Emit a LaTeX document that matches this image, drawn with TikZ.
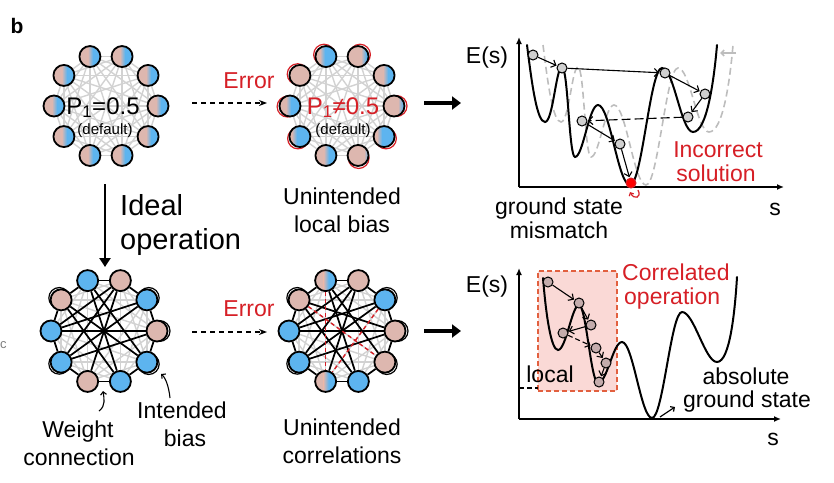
\documentclass[tikz,border=0pt]{standalone}
\usepackage{fontspec}
\setmainfont{Liberation Sans}
\usetikzlibrary{arrows.meta,backgrounds}
\definecolor{pinkc}{HTML}{DDB7AF}
\definecolor{bluec}{HTML}{5DB4EF}
\definecolor{glc}{HTML}{D2D2D2}
\definecolor{redc}{HTML}{D61F26}
\definecolor{boxfill}{HTML}{FAD9D6}
\definecolor{boxdraw}{HTML}{E2603F}
\definecolor{ptg}{HTML}{D0D0D0}
\definecolor{ptb}{HTML}{C4ACAC}
\definecolor{dgray}{HTML}{BDBDBD}
\begin{document}
\begin{tikzpicture}[x=1pt,y=-1pt,
  nd/.style={circle, draw=black, line width=1.8pt, minimum size=21pt, inner sep=0pt},
  pk/.style={nd, fill=pinkc},
  bl/.style={nd, fill=bluec},
  mix/.style={nd, fill=bluec, path picture={
     \fill[pinkc] (path picture bounding box.south west) rectangle ([xshift=#1pt-2pt]path picture bounding box.north west);
     \shade[left color=pinkc,right color=bluec] ([xshift=#1pt-2.5pt]path picture bounding box.south west) rectangle ([xshift=#1pt+2.5pt]path picture bounding box.north west);}},
  gline/.style={draw=glc, line width=1.4pt},
  bline/.style={draw=black, line width=1.7pt},
  rline/.style={draw=redc, line width=1.4pt, dash pattern=on 4pt off 3pt},
  rarc/.style={draw=redc, line width=1.2pt},
  karc/.style={draw=black, line width=1.2pt},
  txt/.style={inner sep=0pt, font=\fontsize{23}{26}\selectfont},
  pt/.style={circle, draw=black, line width=1pt, fill=ptg, minimum size=10pt, inner sep=0pt},
  ptq/.style={pt, fill=ptb},
  arr/.style={line width=1.1pt, -{Straight Barb[length=4pt,width=8pt,line width=1.1pt]}, shorten >=0.5pt},
  axis/.style={line width=1.8pt, -{Latex[length=7pt,width=6pt]}},
  lscurve/.style={line width=2pt, line cap=round},
  fatarr/.style={line width=4pt, -{Triangle[length=9pt,width=13pt]}},
  errarr/.style={line width=1.4pt, dash pattern=on 5pt off 4pt, -{Stealth[length=8pt,width=6pt]}}
]
\useasboundingbox (0,0) rectangle (834,482);

% ---------------- rings ----------------
\foreach \k/\m in {0/11,1/11,2/11,3/11,4/11,5/11,6/11,7/11,8/11,9/11}
  \node[mix=\m] (A\k) at ({106+52*cos(\k*36)},{106-52*sin(\k*36)}) {};
\foreach \k/\m in {0/17,1/12,2/16,3/7,4/24,5/9,6/5,7/11,8/19,9/6}
  \node[mix=\m] (B\k) at ({342+52*cos(\k*36)},{106-52*sin(\k*36)}) {};
\foreach \k/\s in {0/pk,1/bl,2/pk,3/bl,4/pk,5/bl,6/bl,7/pk,8/bl,9/bl}
  \node[\s] (C\k) at ({104+53*cos(\k*36)},{331-53*sin(\k*36)}) {};
\foreach \k/\s in {0/pk,1/bl,2/pk,4/pk,5/bl,6/bl,8/bl,9/pk}
  \node[\s] (D\k) at ({342+53*cos(\k*36)},{331-53*sin(\k*36)}) {};
\foreach \k in {3,7}
  \node[mix=11] (D\k) at ({342+53*cos(\k*36)},{331-53*sin(\k*36)}) {};

\begin{pgfonlayer}{background}
  \foreach \r in {A,B,C,D}{
    \foreach \i in {0,...,8}{
      \pgfmathtruncatemacro\s{\i+1}
      \foreach \j in {\s,...,9}{ \draw[gline] (\r\i) -- (\r\j); }
    }
  }
  \foreach \r in {C,D}{
    \foreach \i in {0,...,9}{
      \pgfmathtruncatemacro\n{mod(\i+1,10)}
      \draw[bline] (\r\i) -- (\r\n);
    }
  }
  \foreach \a/\b in {2/5,2/6,2/7,3/8,3/9,4/9,1/6,1/5,5/0,6/0,4/8}
    \draw[bline] (C\a) -- (C\b);
  \foreach \a/\b in {2/5,2/6,2/7,3/8,3/9,1/6,1/5,5/0,6/0,4/8,4/0}
    \draw[bline] (D\a) -- (D\b);
  \foreach \a/\b in {3/7,4/9,1/7}
    \draw[rline] (D\a) -- (D\b);
  % bias arcs
  \foreach \k/\dx/\dy in {0/2.6/0,2/1.9/1.9,3/-1.9/1.9,4/-2.3/1.3,5/-2.5/-0.6,6/-1.9/-1.9,8/0.6/-2.6,9/1.9/-1.9}
    \draw[rarc] ([xshift=\dx pt,yshift=\dy pt]B\k.center) circle[radius=10.4pt];
  \foreach \r in {C,D}{
    \foreach \k/\dx/\dy in {4/-1.9/1.9,1/1.9/1.9,0/2.6/0,9/1.9/-1.9,6/-1.9/-1.6}
      \draw[karc] ([xshift=\dx pt,yshift=\dy pt]\r\k.center) circle[radius=10.4pt];
  }
\end{pgfonlayer}

% ring texts
\node[inner sep=0pt, font=\fontsize{24}{24}\selectfont, anchor=base] (ta1) at (103,114) {P\textsubscript{1}=0.5};
\node[inner sep=0pt, font=\fontsize{15}{15}\selectfont, anchor=base] (ta2) at (105,134) {(default)};
\node[inner sep=0pt, font=\fontsize{24}{24}\selectfont, text=redc, anchor=base] (tb1) at (343,114) {P\textsubscript{1}≠0.5};
\node[inner sep=0pt, font=\fontsize{15}{15}\selectfont, anchor=base] (tb2) at (343,134) {(default)};

% labels
\node[inner sep=0pt, font=\fontsize{21}{21}\selectfont\bfseries, anchor=base] (lb) at (17,33) {b};
\node[inner sep=0pt, font=\fontsize{13}{13}\selectfont, text=gray, anchor=west] (lc) at (0,345) {c};

\node[txt, text=redc] (err1) at (249,81) {Error};
\node[txt, text=redc] (err2) at (249,309) {Error};
\coordinate (e1a) at (192,103); \coordinate (e1b) at (267,103);
\coordinate (e2a) at (192,332); \coordinate (e2b) at (267,332);
\draw[errarr] (e1a) -- (e1b);
\draw[errarr] (e2a) -- (e2b);

\coordinate (f1a) at (424,103); \coordinate (f1b) at (461,103);
\coordinate (f2a) at (424,331); \coordinate (f2b) at (461,331);
\draw[fatarr] (f1a) -- (f1b);
\draw[fatarr] (f2a) -- (f2b);

\coordinate (v1) at (105,184); \coordinate (v2) at (105,267);
\draw[line width=2.6pt, -{Triangle[length=9pt,width=11pt]}] (v1) -- (v2);
\node[inner sep=0pt, font=\fontsize{29}{29}\selectfont, anchor=base west] (ideal) at (120,215) {Ideal};
\node[inner sep=0pt, font=\fontsize{29}{29}\selectfont, anchor=base west] (oper) at (120,249) {operation};

\node[txt, anchor=base] (ul1) at (342,204) {Unintended};
\node[txt, anchor=base] (ul2) at (342,232) {local bias};
\node[txt, anchor=base] (uc1) at (342,435) {Unintended};
\node[txt, anchor=base] (uc2) at (342,463) {correlations};
\node[txt, anchor=base] (wc1) at (78,437) {Weight};
\node[txt, anchor=base] (wc2) at (79,465) {connection};
\node[txt, anchor=base] (ib1) at (182,418) {Intended};
\node[txt, anchor=base] (ib2) at (185,446) {bias};

\coordinate (wa) at (99,411); \coordinate (wb) at (103,391);
\draw[line width=1.1pt, -{Straight Barb[length=3pt,width=6pt]}] (wa) .. controls (106,406) and (104,398) .. (wb);
\coordinate (ia) at (170,398); \coordinate (ib) at (161,374);
\draw[line width=1.1pt, -{Straight Barb[length=3pt,width=6pt]}] (ia) .. controls (169,388) and (166,378) .. (ib);

% ---------------- top plot ----------------
\begin{scope}[xshift=16pt]
\draw[dgray, line width=1.6pt, dash pattern=on 7pt off 4pt] (527,45) .. controls (532,85) and (537,122) .. (545,122)
 .. controls (553,122) and (556,67) .. (562,67)
 .. controls (568,67) and (569,157) .. (575,157)
 .. controls (583,157) and (589,105) .. (598,105)
 .. controls (610,105) and (618,185) .. (630,185)
 .. controls (642,185) and (650,68) .. (662,68)
 .. controls (674,68) and (681,132) .. (693,132)
 .. controls (707,132) and (714,80) .. (717,45);
\end{scope}
\draw[lscurve] (527,45) .. controls (532,85) and (537,122) .. (545,122)
 .. controls (553,122) and (556,67) .. (562,67)
 .. controls (568,67) and (569,157) .. (575,157)
 .. controls (583,157) and (589,105) .. (598,105)
 .. controls (610,105) and (618,185) .. (630,185)
 .. controls (642,185) and (650,68) .. (662,68)
 .. controls (674,68) and (681,132) .. (693,132)
 .. controls (707,132) and (714,80) .. (717,45);
\coordinate (o1) at (519,187);
\coordinate (y1) at (519,37);
\coordinate (x1) at (784,187);
\draw[axis] (o1) -- (y1);
\draw[axis] (o1) -- (x1);
\coordinate (ga) at (736,53); \coordinate (gb) at (720,53);
\draw[dgray, line width=1.6pt, -{Straight Barb[length=3pt,width=6pt]}] (ga) -- (gb);

\node[pt] (p1) at (533,55) {};
\node[pt] (p2) at (562,68) {};
\node[pt] (p3) at (665,73) {};
\node[pt] (p4) at (705,94) {};
\node[pt] (p5) at (688,117) {};
\node[pt] (p6) at (582,121) {};
\node[pt] (p7) at (620,144) {};
\node[pt, fill=red, draw=redc] (p8) at (631,183) {};
\draw[arr] (p1) -- (p2);
\draw[arr] (p2) -- (p3);
\draw[arr] (p3) -- (p4);
\draw[arr] (p4) -- (p5);
\draw[arr, dash pattern=on 9pt off 4pt] (p5) -- (p6);
\draw[arr] (p6) -- (p7);
\draw[arr] (p7) -- (p8);
\coordinate (ha) at (638,190); \coordinate (hb) at (630,192);
\draw[redc, line width=1.2pt, -{Straight Barb[length=2.5pt,width=5pt]}] (ha) .. controls (642,198) and (634,200) .. (hb);

\node[txt, anchor=base] (es1) at (487,63) {E(s)};
\node[txt, anchor=base] (s1) at (775,215) {s};
\node[txt, anchor=base] (gs1) at (559,214) {ground state};
\node[txt, anchor=base] (gs2) at (559,238) {mismatch};
\node[txt, anchor=base, text=redc] (ic1) at (718,157) {Incorrect};
\node[txt, anchor=base, text=redc] (ic2) at (716,181) {solution};

% ---------------- bottom plot ----------------
\node[draw=boxdraw, fill=boxfill, line width=1.4pt, dash pattern=on 5pt off 3pt, inner sep=0pt,
      minimum width=79pt, minimum height=120pt] (box) at (577.5,331) {};
\coordinate (la) at (519,388); \coordinate (lbb) at (538,388);
\draw[line width=1.2pt, dash pattern=on 5pt off 3pt] (la) -- (lbb);
\draw[lscurve] (543,278) .. controls (546,315) and (551,350) .. (558,350)
 .. controls (566,350) and (572,305) .. (579,305)
 .. controls (586,305) and (591,383) .. (598,383)
 .. controls (607,383) and (613,342) .. (622,342)
 .. controls (633,342) and (641,418) .. (652,418)
 .. controls (663,418) and (671,312) .. (682,312)
 .. controls (694,312) and (705,362) .. (717,362)
 .. controls (730,362) and (735,310) .. (737,277);
\coordinate (o2) at (519,419);
\coordinate (y2) at (519,268);
\coordinate (x2) at (781,419);
\draw[axis] (o2) -- (y2);
\draw[axis] (o2) -- (x2);

\node[ptq] (q1) at (548,282) {};
\node[ptq] (q2) at (579,303) {};
\node[ptq] (q3) at (591,325) {};
\node[ptq] (q4) at (563,333) {};
\node[ptq] (q5) at (596,348) {};
\node[ptq] (q6) at (606,363) {};
\node[ptq] (q7) at (599,382) {};
\draw[arr] (q1) -- (q2);
\draw[arr] (q2) -- (q3);
\draw[arr] (q3) -- (q4);
\draw[arr, dash pattern=on 5pt off 3pt] (q4) -- (q5);
\draw[arr] (q5) -- (q6);
\draw[arr] (q6) -- (q7);

\coordinate (aa) at (660,417); \coordinate (ab) at (675,407);
\draw[line width=1.2pt, -{Straight Barb[length=3pt,width=6pt]}] (aa) -- (ab);

\node[txt, anchor=base] (es2) at (487,292) {E(s)};
\node[txt, anchor=base] (s2) at (773,445) {s};
\node[txt, anchor=base] (loc) at (550,382) {local};
\node[txt, anchor=base west, text=redc] (co1) at (622,280) {Correlated};
\node[txt, anchor=base west, text=redc] (co2) at (624,304) {operation};
\node[txt, anchor=base] (ag1) at (746,384) {absolute};
\node[txt, anchor=base] (ag2) at (747,407) {ground state};
\end{tikzpicture}
\end{document}
